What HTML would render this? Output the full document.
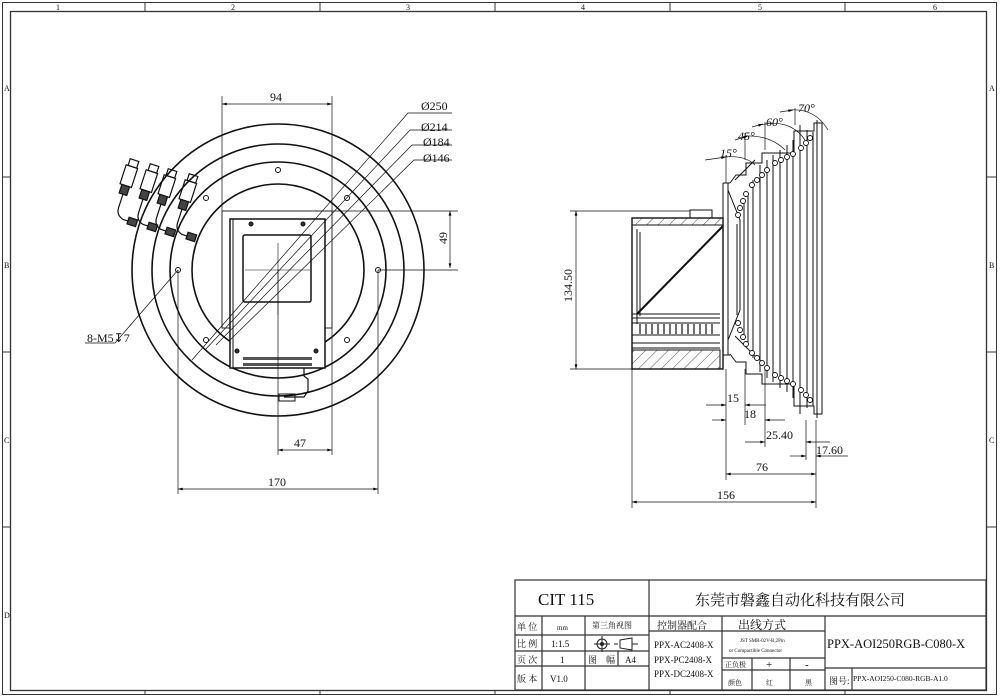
<!DOCTYPE html>
<html><head><meta charset="utf-8"><style>
html,body{margin:0;padding:0;background:#fff;}
svg{display:block;}
text{font-family:"Liberation Serif","Noto Serif CJK SC",serif;fill:#111;}
.s{font-family:"Liberation Sans","Noto Sans CJK SC",sans-serif;}
</style></head><body>
<svg width="1002" height="699" viewBox="0 0 1002 699" xmlns="http://www.w3.org/2000/svg">
<defs>
<marker id="a" viewBox="0 0 10 6" refX="10" refY="3" markerWidth="10" markerHeight="4" orient="auto-start-reverse"><path d="M0,0L10,3L0,6z" fill="#000"/></marker>
<pattern id="h" width="8" height="8" patternUnits="userSpaceOnUse" patternTransform="rotate(45)"><line x1="0" y1="0" x2="0" y2="8" stroke="#222" stroke-width="0.8"/></pattern>
</defs>
<g fill="none" stroke="#333" stroke-width="1">
<rect x="2.5" y="2.5" width="994" height="692"/>
<rect x="10.5" y="11.5" width="976" height="679" stroke-width="1.3"/>
<path d="M145 2.5V11.5M320 2.5V11.5M495 2.5V11.5M670 2.5V11.5M845 2.5V11.5M145 690V694M320 690V694M495 690V694M670 690V694M845 690V694M2.5 177H10.5M2.5 352H10.5M2.5 527H10.5M987 177H996M987 352H996M987 527H996"/>
</g>
<g class="s" font-size="8">
<text x="56" y="10">1</text><text x="231" y="10">2</text><text x="406" y="10">3</text><text x="581" y="10">4</text><text x="758" y="10">5</text><text x="933" y="10">6</text>
<text x="4" y="91">A</text><text x="4" y="268">B</text><text x="4" y="443">C</text><text x="4" y="618">D</text>
<text x="989" y="91">A</text><text x="989" y="268">B</text><text x="989" y="443">C</text>
</g>

<!-- FRONT VIEW -->
<g fill="none" stroke="#111">
<circle cx="278" cy="270" r="146" stroke-width="1.6"/>
<circle cx="278" cy="270" r="126" stroke-width="1.6"/>
<circle cx="278" cy="270" r="108" stroke-width="1.6"/>
<circle cx="278" cy="270" r="86" stroke-width="1.6"/>
<circle cx="278" cy="170" r="2.5"/><circle cx="206" cy="198" r="2.5"/><circle cx="347" cy="198" r="2.5"/>
<circle cx="178" cy="270" r="2.5"/><circle cx="378" cy="270" r="2.5"/>
<circle cx="206" cy="340" r="2.5"/><circle cx="347" cy="340" r="2.5"/>
<rect x="222" y="211" width="110" height="117" fill="#fff" stroke-width="0.9"/>
<rect x="230" y="219" width="95" height="149" fill="#fff" stroke-width="1.5"/>
<line x1="233" y1="219" x2="233" y2="368"/>
<rect x="243" y="235" width="68" height="67" rx="2" stroke-width="1.5"/>
<circle cx="251" cy="224" r="2" fill="#333"/><circle cx="303" cy="224" r="2" fill="#333"/>
<circle cx="237" cy="351" r="2" fill="#333"/><circle cx="316" cy="351" r="2" fill="#333"/>
<rect x="243" y="357" width="69" height="3" fill="#555" stroke="none"/>
<rect x="243" y="363" width="69" height="3" fill="#555" stroke="none"/>
<path d="M304 368v8l4 3v12l-4 6h-20" stroke-width="1.2"/>
<rect x="279" y="394" width="16" height="7" stroke-width="1"/>
<path d="M278 243v72M245 270h65" stroke-width="0.6"/>
<g stroke-width="0.7">
<path d="M178 270L115 343H85"/>
<path d="M192 360L408 113H452"/>
<path d="M205 350L410 130H452"/>
<path d="M216 345L412 145H452"/>
<path d="M230 340L414 160H452"/>
</g>
<g stroke-width="1.2">
<g transform="translate(130,166) rotate(18)"><rect x="-2" y="-7" width="9" height="7"/><rect x="-4" y="0" width="12" height="20"/><rect x="-2" y="20" width="8" height="9" fill="#444"/><path d="M2 29v14q0 8 8 10h8"/><rect x="15" y="49" width="9" height="7" fill="#444"/></g>
<g transform="translate(150,171) rotate(18)"><rect x="-2" y="-7" width="9" height="7"/><rect x="-4" y="0" width="12" height="20"/><rect x="-2" y="20" width="8" height="9" fill="#444"/><path d="M2 29v14q0 8 8 10h8"/><rect x="15" y="49" width="9" height="7" fill="#444"/></g>
<g transform="translate(168,176) rotate(18)"><rect x="-2" y="-7" width="9" height="7"/><rect x="-4" y="0" width="12" height="20"/><rect x="-2" y="20" width="8" height="9" fill="#444"/><path d="M2 29v14q0 8 8 10h8"/><rect x="15" y="49" width="9" height="7" fill="#444"/></g>
<g transform="translate(189,181) rotate(18)"><rect x="-2" y="-7" width="9" height="7"/><rect x="-4" y="0" width="12" height="20"/><rect x="-2" y="20" width="8" height="9" fill="#444"/><path d="M2 29v14q0 8 8 10h8"/><rect x="15" y="49" width="9" height="7" fill="#444"/></g>
</g>
<g stroke-width="0.7">
<path d="M222 96V211M332 96V211"/>
<line x1="222" y1="104" x2="332" y2="104" marker-start="url(#a)" marker-end="url(#a)"/>
<path d="M332 211H458M378 270H458"/>
<line x1="450" y1="211" x2="450" y2="268" marker-start="url(#a)" marker-end="url(#a)"/>
<path d="M278 270V455M332 328V455"/>
<line x1="278" y1="450" x2="332" y2="450" marker-start="url(#a)" marker-end="url(#a)"/>
<path d="M178 270V494M378 270V494"/>
<line x1="178" y1="489" x2="378" y2="489" marker-start="url(#a)" marker-end="url(#a)"/>
</g>
</g>
<g font-size="12">
<text x="270" y="101">94</text>
<text x="294" y="447">47</text>
<text x="268" y="486">170</text>
<text transform="translate(447,244) rotate(-90)">49</text>
<text x="87" y="342">8-M5↧7</text>
<text x="421" y="110">Ø250</text>
<text x="421" y="131">Ø214</text>
<text x="423" y="146">Ø184</text>
<text x="423" y="162">Ø146</text>
</g>

<!-- SIDE VIEW -->
<g fill="none" stroke="#111" stroke-width="1">
<rect x="632" y="218" width="91" height="151" stroke-width="1.4"/>
<rect x="632" y="218" width="91" height="7" fill="url(#h)"/>
<rect x="690" y="210" width="22" height="8"/>
<path d="M637 229v95M640 232v84" />
<line x1="637" y1="314" x2="723" y2="226" stroke-width="2"/>
<path d="M632 314H720M632 318H720M632 323H720M632 335H720M632 343H720M632 348H720"/>
<path d="M640 324v10M646 324v10M652 324v10M658 324v10M664 324v10M670 324v10M676 324v10M682 324v10M688 324v10M694 324v10M700 324v10M706 324v10M712 324v10" stroke-width="1.2"/>
<rect x="632" y="350" width="88" height="19" fill="url(#h)"/>
<path d="M723 183V355M728 183V355M723 183h7M723 355h7"/>
<path d="M730 183l6-8h10v-12h16v-10h32v-22h20v-8h8v291h-8v-8h-20v-22h-32v-10h-16v-12h-10l-6-8"/>
<path d="M737 224V315M744 200V340M748 195V345M753 180V358M760 165V372M767 160V378M773 155V382M780 150V388M787 145V392M793 140V398M800 125V414M807 130V408M813 132V406M817 120V418"/>
<path d="M728 190l12 30v90l-12 30M735 180l20-20M755 356l-20-20"/>
</g>
<g fill="#fff" stroke="#111" stroke-width="0.9">
<circle cx="738" cy="215" r="2.5"/><circle cx="740" cy="208" r="2.5"/><circle cx="743" cy="201" r="2.5"/><circle cx="746" cy="194" r="2.5"/>
<circle cx="752" cy="185" r="2.5"/><circle cx="757" cy="180" r="2.5"/><circle cx="762" cy="175" r="2.5"/><circle cx="767" cy="170" r="2.5"/>
<circle cx="775" cy="163" r="2.5"/><circle cx="781" cy="160" r="2.5"/><circle cx="787" cy="157" r="2.5"/><circle cx="793" cy="154" r="2.5"/>
<circle cx="801" cy="148" r="2.5"/><circle cx="806" cy="143" r="2.5"/><circle cx="810" cy="138" r="2.5"/>
<circle cx="738" cy="323" r="2.5"/><circle cx="740" cy="330" r="2.5"/><circle cx="743" cy="337" r="2.5"/><circle cx="746" cy="344" r="2.5"/>
<circle cx="752" cy="353" r="2.5"/><circle cx="757" cy="358" r="2.5"/><circle cx="762" cy="363" r="2.5"/><circle cx="767" cy="368" r="2.5"/>
<circle cx="775" cy="375" r="2.5"/><circle cx="781" cy="378" r="2.5"/><circle cx="787" cy="381" r="2.5"/><circle cx="793" cy="384" r="2.5"/>
<circle cx="801" cy="390" r="2.5"/><circle cx="806" cy="395" r="2.5"/><circle cx="810" cy="400" r="2.5"/>
</g>
<g fill="none" stroke="#111" stroke-width="0.7">
<path d="M725 157Q745 155 755 165" /><line x1="705" y1="160" x2="726" y2="157" marker-end="url(#a)"/>
<path d="M745 136Q770 135 785 150"/><line x1="735" y1="140" x2="748" y2="136" marker-end="url(#a)"/>
<path d="M760 125Q790 118 805 140"/><line x1="752" y1="127" x2="763" y2="124" marker-end="url(#a)"/>
<path d="M790 110Q815 108 828 130"/><line x1="780" y1="112" x2="793" y2="110" marker-end="url(#a)"/>
<path d="M726 155V183M745 133V160M765 122V150M795 108V125"/>
<path d="M570 211H690M570 369H632"/>
<line x1="576" y1="211" x2="576" y2="369" marker-start="url(#a)" marker-end="url(#a)"/>
<path d="M632 369V508M726 369V480M745 369V425M765 369V447M806 420V460M816 420V508"/>
<line x1="706" y1="405" x2="726" y2="405" marker-end="url(#a)"/><line x1="766" y1="405" x2="745" y2="405" marker-end="url(#a)"/>
<line x1="712" y1="420" x2="726" y2="420" marker-end="url(#a)"/><line x1="785" y1="420" x2="765" y2="420" marker-end="url(#a)"/>
<line x1="745" y1="442" x2="765" y2="442" marker-end="url(#a)"/><line x1="830" y1="442" x2="806" y2="442" marker-end="url(#a)"/>
<line x1="790" y1="456" x2="806" y2="456" marker-end="url(#a)"/><line x1="848" y1="456" x2="816" y2="456" marker-end="url(#a)"/>
<line x1="726" y1="474" x2="816" y2="474" marker-start="url(#a)" marker-end="url(#a)"/>
<line x1="632" y1="502" x2="816" y2="502" marker-start="url(#a)" marker-end="url(#a)"/>
</g>
<g font-size="12">
<text transform="translate(572,302) rotate(-90)">134.50</text>
<text x="727" y="402">15</text><text x="744" y="418">18</text>
<text x="766" y="439">25.40</text><text x="816" y="454">17.60</text>
<text x="756" y="471">76</text><text x="717" y="499">156</text>
<text x="720" y="157" font-style="italic">15°</text><text x="738" y="140" font-style="italic">45°</text>
<text x="766" y="126" font-style="italic">60°</text><text x="798" y="112" font-style="italic">70°</text>
</g>

<!-- TITLE BLOCK -->
<g fill="none" stroke="#333" stroke-width="1.2">
<rect x="515" y="580" width="471" height="110"/>
<path d="M515 616H986M649 580V690M515 635H649M515 651H649M515 666H649M542 616V690M585 616V690M618 651V666M585 666V690"/>
<path d="M722 616V690M649 631H825M825 616V690M722 658H825M722 670H825M752 658V690M790 658V690M825 668H986M852 668V690"/>
</g>
<g font-size="9" class="s">
<text x="538" y="605" font-size="17" font-family="Liberation Mono">CIT 115</text>
<text x="695" y="605" font-size="15">东莞市磐鑫自动化科技有限公司</text>
<text x="517" y="630">单 位</text><text x="557" y="630" font-size="7">mm</text><text x="592" y="628" font-size="8">第三角视图</text>
<text x="517" y="647">比 例</text><text x="551" y="647">1:1.5</text>
<text x="517" y="663">页 次</text><text x="560" y="663">1</text><text x="588" y="663">图　幅</text><text x="625" y="663">A4</text>
<text x="517" y="682">版 本</text><text x="550" y="682">V1.0</text>
<text x="657" y="629" font-size="10">控制器配合</text>
<text x="738" y="629" font-size="12">出线方式</text>
<text x="654" y="648" font-size="9" font-family="Liberation Mono">PPX-AC2408-X</text>
<text x="654" y="663" font-size="9" font-family="Liberation Mono">PPX-PC2408-X</text>
<text x="654" y="677" font-size="9" font-family="Liberation Mono">PPX-DC2408-X</text>
<text x="740" y="642" font-size="5">JST SMR-02V-B,2Pin</text>
<text x="729" y="652" font-size="5">or Compactible Connector</text>
<text x="725" y="667" font-size="7">正负极</text><text x="766" y="668" font-size="11">+</text><text x="805" y="668" font-size="11">-</text>
<text x="728" y="685" font-size="7">颜色</text><text x="766" y="685" font-size="7">红</text><text x="805" y="685" font-size="7">黑</text>
<text x="827" y="648" font-size="12.5" font-family="Liberation Mono">PPX-AOI250RGB-C080-X</text>
<text x="829" y="684">图号:</text><text x="853" y="681" font-size="7.5" font-family="Liberation Mono">PPX-AOI250-C080-RGB-A1.0</text>
<circle cx="602" cy="644" r="5" fill="none" stroke="#222"/><circle cx="602" cy="644" r="2" fill="#222"/>
<path d="M594 644h16M602 636v16M614 644h4M620 640l12-2v12l-12-2zM632 644h6" fill="none" stroke="#222"/>
</g>
</svg>
</body></html>
